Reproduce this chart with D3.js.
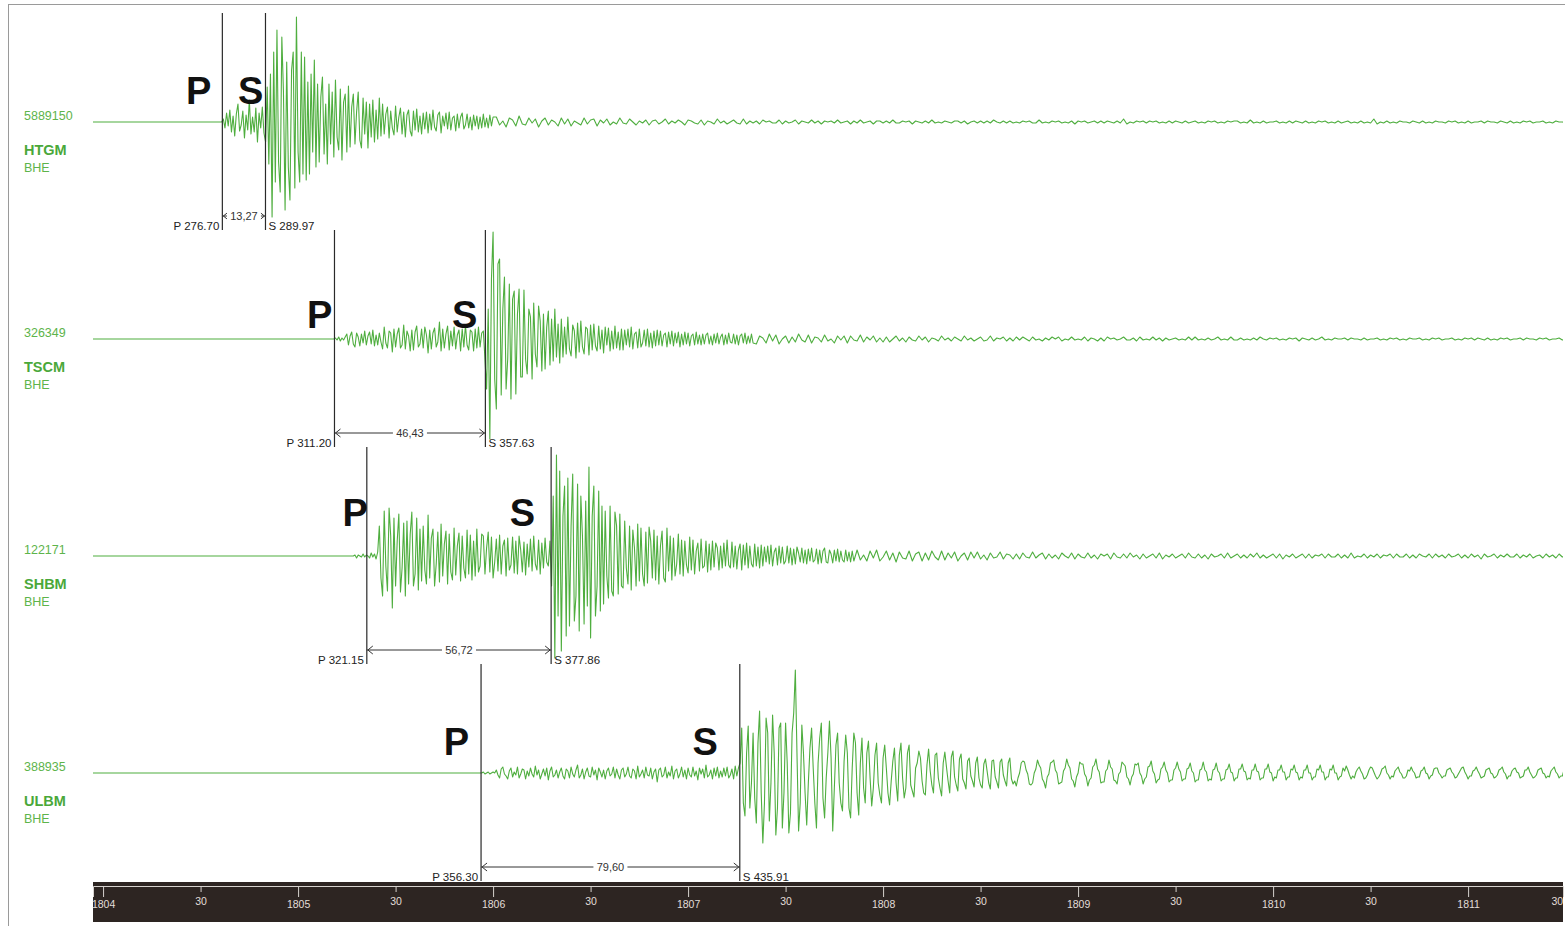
<!DOCTYPE html>
<html>
<head>
<meta charset="utf-8">
<script src="https://cdn.jsdelivr.net/npm/d3@7"></script>
<style>
  html, body { margin: 0; padding: 0; background: #fff; }
  svg { display: block; }
</style>
</head>
<body>
<svg id="chart" width="1565" height="926"></svg>
<script>
// ---- Stations (BHE channel), amplitude scale labels ----
const stations   = ["HTGM", "TSCM", "SHBM", "ULBM"];
const channels   = ["BHE", "BHE", "BHE", "BHE"];
const ampLabels  = ["5889150", "326349", "122171", "388935"];

// ---- Phase picks, seconds after 18:00:00 ----
const pickP      = [276.70, 311.20, 321.15, 356.30];
const pickS      = [289.97, 357.63, 377.86, 435.91];
const spInterval = [13.27, 46.43, 56.72, 79.60];

// ---- Time axis ticks (seconds after 18:00:00) ----
const tickSeconds = [240, 270, 300, 330, 360, 390, 420, 450, 480, 510, 540, 570, 600, 630, 660, 690];

// ---- Waveform samples ----
const htgmBurst = [
  3,-6,9,-4,12,-10,6,-14,8,18,-9,-3,11,-16,7,-8,22,-12,5,-10,14,-20,9,-6,15,-11,
  -20,35,-42,48,
  -95,70,-60,92,-40,-70,85,30,-88,60,-45,-78,52,70,-66,105,-30,-60,70,-52,
  65,-58,40,-52,48,-30,62,-45,
  38,-40,25,45,-32,18,-42,38,-22,30,-35,42,-15,-28,33,-38,20,28,-30,36,
  -25,15,28,-22,10,30,-18,-26,24,-12,20,-26,18,-15,22,-20,12,-17,24,-14,
  18,-12,8,15,-16,11,-6,-13,16,-10,5,14,-12,10,-15,7,12,-9,-14,11,-8,13,-10,6,-12,9,-7,10,-11,8,
  -8,12,-5,-9,7,10,-11,6,-4,9,-7,10,-8,4,6,-9,8,-6,5,9,-7,-3,8,-6,5,-8,7,-4,6,-7,5,-6,8,-5,4,-6,7,-4,5
];
const htgmCoda = [
  5,-3,1,-5,4,2,-4,6,-2,-3,4,-1,3,-5,1,4,-3,2,0,-4,
  4,-2,3,-4,1,-1,-3,4,-2,2,3,-4,2,-1,3,-3,0,-2,4,-1,
  -2,3,0,-3,1,-1,2,-3,1,2,-2,0,3,-2,1,-1,2,0,-3,2,
  1,-1,-2,2,-3,1,0,-2,3,-1,1,-2,0,2,-1,-2,3,-2,1,-1,
  1,-2,2,0,1,-1,-1,2,-2,1,-1,0,2,-2,1,0,-1,2,-1,1,
  -2,1,0,1,-1,2,-1,0,1,-2,1,-1,2,-1,0,1,-2,1,1,-1,
  1,-1,2,-1,-1,1,0,1,-2,1,0,-1,1,-1,2,-1,0,-1,1,0,
  -1,1,1,-1,1,-2,0,1,-1,1,-1,1,-1,2,0,-1,1,-1,1,-1,
  0,-1,1,0,1,-1,-1,2,-1,0,-1,1,0,1,-1,0,-1,1,-2,1,
  0,1,-1,0,1,-1,1,-1,1,0,-1,1,-1,3,-2,0,-1,1,0,1,
  -1,1,0,1,-1,0,-1,1,-1,1,0,-1,1,-1,0,1,-1,0,-1,1,
  0,1,-1,0,-1,1,0,1,1,-1,0,-1,2,-1,0,-1,1,-1,0,0,
  1,-1,0,-1,1,-1,1,0,-1,1,-1,0,-1,1,0,1,-1,0,-1,1,
  -1,0,1,-1,0,-1,1,-1,0,-1,3,-2,0,-1,1,-1,0,-1,1,0,
  0,-1,1,0,-1,1,-1,0,-1,1,0,0,-1,1,0,1,-1,0,-1,1,
  -1,0,0,1,-1,1,0,0,-1,1,0,-1,1,-1,0,-1,1,0,1,-1,
  0,0,1,-1,0,-1,1,0,0,-1,1,0,1,-1,0,0,1,-1,0,0
];

const tscmBurst = [
  0,1,-1,2,-2,1,-1,2,
  5,-6,3,7,-5,-8,6,2,-7,5,-4,8,-6,3,7,-5,9,-7,4,-6,6,-3,
  -10,12,-4,-9,8,6,-13,10,-8,5,11,-9,-6,14,-10,8,3,-12,9,-11,7,13,-8,-5,10,-9,12,4,-14,9,
  -10,6,11,-8,-3,17,-12,10,-9,5,13,-11,8,-7,12,-10,4,9,-12,10,-8,14,-6,-11,9,7,-12,10,-9,12,-8,6,
  8,-20,
  -50,30,-100,60,107,-40,-70,75,
  80,-56,30,62,-50,-20,55,-60,40,48,-55,25,50,-38,
  -38,49,-20,-35,30,22,-40,36,-15,-28,33,18,-32,25,-30,12,28,-26,20,-22,30,-18,15,-24,
  20,-18,12,-15,22,-10,-17,14,8,-19,16,-13,18,-8,-15,12,10,-16,14,-11,
  15,-7,-12,13,-10,9,-14,12,-6,11,-12,8,-10,13,-9,7,-11,10,
  -11,9,-6,10,-8,12,-10,5,7,-9,10,-8,-4,9,-7,10,-8,6,-9,8,
  -7,9,-6,8,-7,4,6,-8,7,-5,8,-7,6,-4,7,-8,5,-6,7,-5,
  6,-7,3,5,-6,7,-5,4,-6,5,
  -5,4,6,-5,3,-6,5,-4,6,-5,2,5,-6,4,-5,6,-3,-4,5,-5,4,-6,3,5,-4,6,-5,3,-4,5,-4
];
const tscmCoda = [
  -5,3,1,-4,5,-2,4,-5,0,3,-4,2,-3,5,-1,-3,4,-4,2,1,
  -3,4,-2,0,-4,3,-1,3,-4,3,-1,-2,4,-3,2,-1,3,-3,1,-3,
  2,-3,0,3,-2,1,-3,2,-1,-2,3,-1,2,-3,1,0,-2,3,-1,1,
  -2,2,0,-2,3,-1,1,-2,0,2,-2,-1,3,-2,1,0,2,-2,1,-2,
  2,-1,2,0,-2,2,-1,0,-2,1,-1,2,0,2,-2,0,-1,2,-1,0,
  -1,2,-2,1,0,-2,1,-2,2,0,1,-1,0,2,-1,-1,1,-2,2,-1,
  0,-1,2,-1,1,-2,1,-1,0,1,-1,0,-1,2,-1,2,-1,0,-1,1,
  -1,0,2,-1,0,-1,2,-1,-1,1,-1,0,-1,1,-1,2,0,-1,1,0,
  1,-1,0,-1,1,0,1,-2,1,0,-1,1,-1,0,2,-1,0,-1,1,0,
  0,1,-1,1,0,0,-1,1,-1,0,0,1,-1,0,-1,1,0,1,-1,0,
  -1,1,0,0,1,-1,0,-1,1,0,1,-1,0,0,1,-1,0,-1,1,0,
  1,-1,1,0,-1,1,-1,0,-1,1,0,1,-1,0,0,1,-1,1,0,0,
  -1,1,0,1,-1,0,0,1,-1,0,1,-1,0,-1,1,0,0,-1,1,0
];

const shbmBurst = [
  0,1,-2,1,0,-1,2,-1,1,0,
  -2,3,-1,2,-3,4,
  30,-22,-40,45,-10,-35,48,20,-52,38,-30,15,42,-36,-12,33,-40,35,-28,22,44,-30,-18,38,-34,27,
  -25,30,-14,-28,41,-22,18,27,-30,-8,24,-26,32,-20,12,25,-28,22,-16,-24,
  28,-19,10,23,-25,20,-12,-22,26,-18,21,-24,15,-20,27,-16,-10,22,
  20,-18,8,24,-16,19,-22,-6,17,-15,21,-18,10,16,-20,18,-14,-9,19,-17,
  15,-18,20,6,-16,14,-19,12,-11,17,-15,20,-8,-14,16,-18,13,-12,18,-6,-10,15,
  -30,60,-102,101,-60,85,-95,40,70,-80,
  78,-70,30,82,-65,-40,72,-75,60,20,-68,55,-50,89,-82,40,70,-60,-30,65,-55,50,
  -48,45,-20,-42,50,-35,-40,44,30,-38,42,-30,
  -32,35,-12,-28,30,-34,26,8,-30,32,-25,28,-18,-30,24,-27,29,15,
  -22,26,-24,20,-28,10,25,-22,-26,28,-15,20,-24,18,-20,-8,22,-18,
  16,-20,15,-9,-17,19,-14,16,-18,5,13,-15,17,-12,-10,15,-16,12,-14,15,
  -11,13,8,-14,10,-12,13,-10,16,-9,-12,14,-11,10,-13,6,12,-14,11,-9,
  13,-12,10,-8,-11,12,-10,9,-12,11,
  -10,9,-6,10,-8,11,-10,4,8,-9,10,-7,9,-8,-5,10,-7,8,-9,7,
  -8,9,3,-6,8,-7,6,-8,7,-5,8,-6,-4,7,-8,6,-7,5,8,-6,
  -7,6,2,-7,6,-5,7,-6,5,-4,-6,6,-5,4,-6,5,-5
];
const shbmCoda = [
  6,-4,1,-5,5,-2,6,-5,-1,5,-4,3,-6,4,-2,-3,5,-5,2,4,
  -5,3,-4,5,-1,-4,5,-4,3,-2,4,-5,0,3,-4,4,-2,4,-3,1,
  -4,3,-2,-1,4,-3,2,1,-3,2,-3,3,-1,-2,4,-2,1,3,-3,2,
  -2,1,-3,3,0,-2,3,-3,2,-1,-2,3,-2,1,-3,2,0,2,-3,3,
  -1,-2,2,-2,3,-1,1,-3,2,-2,0,2,-2,3,-3,1,-1,2,-2,0,
  2,-2,3,-1,-2,2,-2,1,-3,2,-1,0,2,-2,3,-2,0,2,-2,1,
  -2,2,-1,3,-2,1,-2,0,2,-2,2,-3,1,-1,2,-2,0,2,-2,2,
  -2,1,0,2,-2,2,-1,-1,2,-2,1,-2,3,-2,0,-1,2,-2,1,-1,
  2,-2,1,0,2,-2,2,-1,-1,2,-2,1,-2,2,0,-1,2,-2,2,-1,
  1,-2,2,-1,0,2,-2,1,-2,2,-1,1,-3,2,-1,0,2,-2,1,-1,
  2,-1,-1,2,-2,1,-1,2,-2,0,1,-2,2,-1,1,-2,2,-1,0,-1
];

const ulbmPre = [
  0,0,1,-1,0,1,-1,0,1,0,
  3,-2,-5,4,6,-1,-3,-6,2,5,-4,1,-2,6,-5,-1,4,3,-6,2,
  -3,5,-1,-4,7,-2,3,-6,-1,4,-3,5,-7,2,6,-4,-2,3,-5,1,
  5,-3,-6,4,2,-5,6,-1,-4,3,8,-5,-2,4,-6,1,5,-3,-4,6,
  -2,3,-7,5,1,-4,3,-6,2,5,-3,-1,6,-5,4,-2,-6,3,5,-4,
  -1,6,-3,-5,4,2,-6,7,-4,-1,3,-5,6,-2,-3,5,-6,1,4,-9,
  3,5,-4,-2,6,-5,1,-3,7,-6,2,4,-5,-1,6,-4,3,-6,5,-2,
  -4,6,-3,2,-7,5,-1,4,-5,8,-4,-2,3,-6,5,-3,6,-5,2,-4,
  5,-3,6,-5,-2,4,-6,7,-3,5
];
const ulbmBurst = [
  10,45,-30,-43,20,47,-35,-10,40,-25,
  -50,30,62,-20,-70,-30,55,40,-48,-10,58,20,-62,-35,45,50,-55,-20,50,10,-60,-40,40,60,103,20,-58,-30,
  48,20,-20,-52,-10,25,45,5,-30,-55,10,35,50,-25,-45,-5,20,52,15,-58,
  -15,28,40,-10,-30,-38,12,38,20,-35,-45,5,40,30,-20,-42,10,35,-15,-30,
  20,32,-5,-33,-15,18,30,-10,-22,-30,15,28,5,-20,-32,-8,12,25,-10,-28,
  18,30,-5,-25,-15,20,28,-12,
  -18,-24,5,10,22,15,-8,-20,-22,8,24,2,-12,-20,18,20,-5,-15,-23,10,
  21,6,-8,-20,16,22,-4,-12,-18,14,19,-6,-10,-16,12,15,-3,-8,-14,10,
  16,-5,-12,-15,9,14,2,-10,-16,12,13,-4,-9,-15,11,14,-2,-8,-13,10,
  15,-6,-11
];
const ulbmCoda = [
  -8,-13,-5,0,10,12,11,3,-1,-11,-12,-10,0,4,13,8,5,-6,-9,-15,
  -4,-1,10,11,13,3,0,-11,-10,-9,2,5,14,8,5,-6,-8,-14,-4,0,
  11,9,9,-1,-4,-13,-7,-5,6,8,14,4,1,-10,-9,-9,2,4,13,6,
  4,-7,-8,-11,-1,1,11,9,7,-4,-6,-12,-4,-1,9,8,10,0,-3,-11,
  -6,-4,6,7,12,2,-1,-10,-7,-6,4,6,11,3,0,-9,-7,-7,3,5,
  11,4,1,-8,-6,-6,4,5,10,2,0,-9,-7,-7,3,4,11,3,1,-8,
  -6,-7,3,4,10,2,0,-8,-6,-6,3,4,9,1,0,-8,-5,-5,4,4,
  9,2,1,-7,-5,-6,3,3,9,2,1,-7,-5,-5,4,4,9,1,0,-8,
  -4,-5,3,3,8,1,1,-7,-4,-4,4,3,8,1,0,-7,-4,-5,3,3,
  8,0,0,-7,-4,-4,4,3,8,1,1,-7,-4,-4,4,3,8,0,0,-7,
  -4,-3,5,2,7,3,-2,-6,-3,-5,1,4,6,2,-1,-6,-5,-2,3,6,
  5,1,-3,-6,-4,-1,4,5,7,0,-2,-6,-3,-4,2,4,6,1,-1,-5,
  -5,-3,3,2,6,2,0,-5,-4,-4,2,3,6,0,-1,-6,-3,-2,4,5,
  5,0,-2,-5,-3,-3,3,4,5,1,-1,-5,-4,-1,2,5,6,1,-2,-6,
  -3,-3,2,3,6,2,-1,-5,-4,-3,3,4,5,0,-1,-5,-4,-2,3,4,
  6,1,-1,-6,-3,-3,2,4,5,1,0,-5,-4,-3,3,3,6,1,-2,-5,
  -4,-2,3,4,5,0,-1,-5,-3,-4,2,4,6,1,-1,-5,-3,-3,3,4
];

// segment table: first sample time (s) and sample step (s) for each block
const waveSegments = [
  [{ values: htgmBurst, start: 277, step: 0.5 }, { values: htgmCoda, start: 361, step: 1 }],
  [{ values: tscmBurst, start: 311, step: 0.5 }, { values: tscmCoda, start: 441, step: 1 }],
  [{ values: shbmBurst, start: 317, step: 0.5 }, { values: shbmCoda, start: 472, step: 1 }],
  [{ values: ulbmPre, start: 356, step: 0.5 }, { values: ulbmBurst, start: 436, step: 0.5 }, { values: ulbmCoda, start: 520.5, step: 0.5 }]
];

// ---- Layout ----
const W = 1565, H = 926;
const plotLeft = 93, plotRight = 1563;
const rowBase0 = 122, rowStep = 217;
const traceColor = "#4fae3f";
const labelGreen = "#5db44b";
const font = "'Liberation Sans', Arial, Helvetica, sans-serif";
// phase letter placement relative to each pick line (right edge offset) and baseline offset
const pLetterDx = [-11, -2, 1, -12];
const sLetterDx = [-2, -8, -16, -22];
const letterDy  = [-18, -11, -30, -18];

const svg = d3.select("#chart");
const x = d3.scaleLinear().domain([236.9, 689.2]).range([plotLeft, plotRight]);
const commaFmt = d3.formatLocale({ decimal: ",", thousands: ".", grouping: [3], currency: ["", ""] }).format(".2f");
const dotFmt = d3.format(".2f");

// outer frame
svg.append("line").attr("x1", 8.5).attr("x2", 8.5).attr("y1", 4).attr("y2", H)
  .attr("stroke", "#9a9a9a").attr("stroke-width", 1);
svg.append("line").attr("x1", 8).attr("x2", W).attr("y1", 4.5).attr("y2", 4.5)
  .attr("stroke", "#9a9a9a").attr("stroke-width", 1);

svg.append("defs").append("clipPath").attr("id", "plotClip")
  .append("rect").attr("x", plotLeft).attr("y", 0).attr("width", plotRight - plotLeft).attr("height", 882);

stations.forEach((name, i) => {
  const base = rowBase0 + i * rowStep;
  const y = d3.scaleLinear().domain([-100, 100]).range([base + 100, base - 100]);
  const g = svg.append("g");

  // channel labels on the left
  g.append("text").attr("x", 24).attr("y", base - 2)
    .attr("font-family", font).attr("font-size", 12.5).attr("fill", labelGreen).text(ampLabels[i]);
  g.append("text").attr("x", 24).attr("y", base + 33)
    .attr("font-family", font).attr("font-size", 14.5).attr("font-weight", "bold").attr("fill", "#4aa83a").text(name);
  g.append("text").attr("x", 24).attr("y", base + 50)
    .attr("font-family", font).attr("font-size", 12.5).attr("fill", labelGreen).text(channels[i]);

  // waveform: flat until the first sample, then every segment in order
  const segs = waveSegments[i];
  let pts = [[x.domain()[0], 0], [segs[0].start - segs[0].step, 0]];
  segs.forEach(s => {
    pts = pts.concat(s.values.map((v, k) => [s.start + k * s.step, v]));
  });
  const line = d3.line().x(d => x(d[0])).y(d => y(d[1]));
  g.append("path").datum(pts).attr("d", line).attr("clip-path", "url(#plotClip)")
    .attr("fill", "none").attr("stroke", traceColor).attr("stroke-width", 1.1).attr("stroke-linejoin", "round");

  // pick lines
  const xp = x(pickP[i]), xs = x(pickS[i]);
  const top = base - 109, bottom = Math.min(base + 108, 882);
  [xp, xs].forEach(px => {
    g.append("line").attr("x1", px).attr("x2", px).attr("y1", top).attr("y2", bottom)
      .attr("stroke", "#2a2a2a").attr("stroke-width", 1.2);
  });

  // phase letters
  g.append("text").attr("x", xp + pLetterDx[i]).attr("y", base + letterDy[i])
    .attr("text-anchor", "end").attr("font-family", font).attr("font-weight", "bold")
    .attr("font-size", 38).attr("fill", "#111").text("P");
  g.append("text").attr("x", xs + sLetterDx[i]).attr("y", base + letterDy[i])
    .attr("text-anchor", "end").attr("font-family", font).attr("font-weight", "bold")
    .attr("font-size", 38).attr("fill", "#111").text("S");

  // pick time annotations
  g.append("text").attr("x", xp - 3).attr("y", base + 108).attr("text-anchor", "end")
    .attr("font-family", font).attr("font-size", 11.5).attr("fill", "#222").text("P " + dotFmt(pickP[i]));
  g.append("text").attr("x", xs + 3).attr("y", base + 108)
    .attr("font-family", font).attr("font-size", 11.5).attr("fill", "#222").text("S " + dotFmt(pickS[i]));

  // S-P interval dimension arrow
  const ay = base + 94;
  g.append("line").attr("x1", xp).attr("x2", xs).attr("y1", ay).attr("y2", ay)
    .attr("stroke", "#333").attr("stroke-width", 1);
  g.append("path").attr("d", `M${xp + 6},${ay - 4}L${xp + 1},${ay}L${xp + 6},${ay + 4}`)
    .attr("fill", "none").attr("stroke", "#333").attr("stroke-width", 1);
  g.append("path").attr("d", `M${xs - 6},${ay - 4}L${xs - 1},${ay}L${xs - 6},${ay + 4}`)
    .attr("fill", "none").attr("stroke", "#333").attr("stroke-width", 1);
  const lbl = commaFmt(spInterval[i]);
  const mid = (xp + xs) / 2;
  const lw = lbl.length * 6 + 4;
  g.append("rect").attr("x", mid - lw / 2).attr("y", ay - 6).attr("width", lw).attr("height", 12).attr("fill", "#fff");
  g.append("text").attr("x", mid).attr("y", ay + 4).attr("text-anchor", "middle")
    .attr("font-family", font).attr("font-size", 11).attr("fill", "#333").text(lbl);
});

// ---- Time axis on dark band ----
svg.append("rect").attr("x", plotLeft).attr("y", 882).attr("width", plotRight - plotLeft).attr("height", 40)
  .attr("fill", "#2d2522");

const axis = d3.axisBottom(x).tickValues(tickSeconds).tickSizeOuter(0).tickSize(11)
  .tickFormat(t => (t % 60 === 0 ? String(1800 + t / 60) : "30"));
const ax = svg.append("g").attr("transform", "translate(0,886)").call(axis);
ax.select(".domain").attr("stroke", "#d6d2ce").attr("stroke-width", 1);
ax.selectAll(".tick line").attr("stroke", "#d6d2ce")
  .attr("y2", d => (d % 60 === 0 ? 11 : 6));
ax.selectAll(".tick text").attr("fill", "#e2ded9").attr("font-family", font).attr("font-size", 10.5)
  .attr("dy", 0).attr("y", d => (d % 60 === 0 ? 22 : 19))
  .attr("text-anchor", d => (x(d) > plotRight - 8 ? "end" : "middle"))
  .attr("x", d => (x(d) > plotRight - 8 ? -3 : 0));
</script>
</body>
</html>
